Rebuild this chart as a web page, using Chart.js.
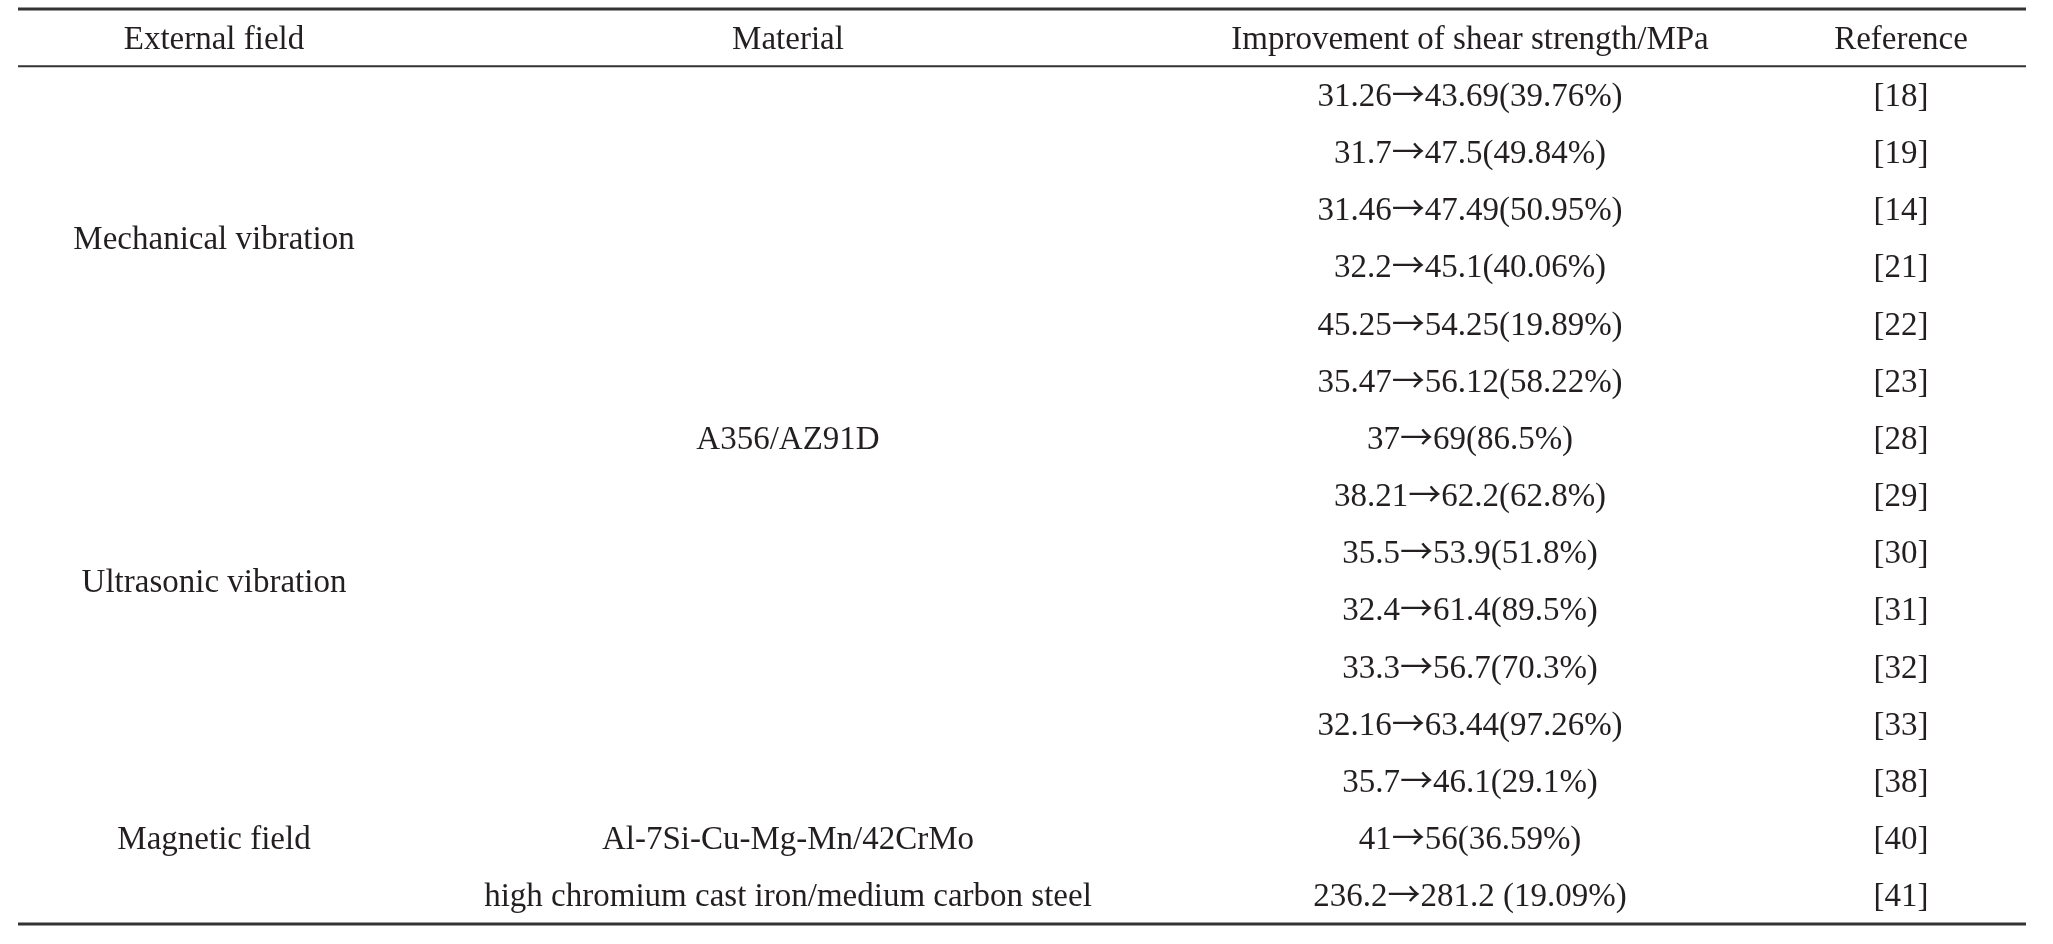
<!DOCTYPE html>
<html>
<head>
<meta charset="utf-8">
<title>Shear strength improvement by external field</title>
<script src="https://cdn.jsdelivr.net/npm/chart.js@4.4.1/dist/chart.umd.min.js"></script>
<style>
  html, body { margin: 0; padding: 0; background: #fff; }
  #wrap { width: 2053px; height: 944px; }
</style>
</head>
<body>
<div id="wrap"><canvas id="tabela" width="2053" height="944" aria-label="Improvement of shear strength by external field"></canvas></div>
<script>
// Cabeçalho da tabela
const headers = ['External field', 'Material', 'Improvement of shear strength/MPa', 'Reference'];

// Grupos (linhas de início e fim, 1 = primeira linha de dados)
const fields = ['Mechanical vibration', 'Ultrasonic vibration', 'Magnetic field'];
const fieldSpans = [[1, 6], [7, 12], [13, 15]];
const materials = ['A356/AZ91D', 'Al-7Si-Cu-Mg-Mn/42CrMo', 'high chromium cast iron/medium carbon steel'];
const materialSpans = [[1, 13], [14, 14], [15, 15]];

// Valores de resistência ao cisalhamento (MPa)
const before = [31.26, 31.7, 31.46, 32.2, 45.25, 35.47, 37, 38.21, 35.5, 32.4, 33.3, 32.16, 35.7, 41, 236.2];
const after = [43.69, 47.5, 47.49, 45.1, 54.25, 56.12, 69, 62.2, 53.9, 61.4, 56.7, 63.44, 46.1, 56, 281.2];
const gains = ['39.76', '49.84', '50.95', '40.06', '19.89', '58.22', '86.5', '62.8', '51.8', '89.5', '70.3', '97.26', '29.1', '36.59', '19.09'];
const refs = [18, 19, 14, 21, 22, 23, 28, 29, 30, 31, 32, 33, 38, 40, 41];
const spacedRows = [14]; // a última linha tem espaço antes do parêntese

// Layout (posição das colunas em unidades do eixo x)
const colX = [196, 770, 1452, 1883];
const FONT_SIZE = 33;
const FONT = FONT_SIZE + 'px "Liberation Serif", "Times New Roman", serif';
const ARROW_FONT = FONT_SIZE + 'px "Noto Sans CJK SC", "DejaVu Sans", sans-serif';
const INK = '#231f20';

const nRows = before.length;

// Pontos invisíveis em cada célula
const cellPoints = [];
for (let r = 1; r <= nRows; r++) {
  colX.forEach(x => cellPoints.push({ x: x, y: r }));
}

// Plugin que desenha as regras e os textos usando as escalas do gráfico
const tablePlugin = {
  id: 'tablePlugin',
  afterDatasetsDraw(chart) {
    const { ctx, scales: { x, y } } = chart;
    const left = x.getPixelForValue(x.min);
    const right = x.getPixelForValue(x.max);
    const baseShift = Math.round(FONT_SIZE / 3);

    function rule(val, width) {
      const py = y.getPixelForValue(val);
      ctx.save();
      ctx.strokeStyle = '#333';
      ctx.lineWidth = width;
      ctx.beginPath();
      ctx.moveTo(left, py);
      ctx.lineTo(right, py);
      ctx.stroke();
      ctx.restore();
    }
    function text(str, col, row) {
      ctx.font = FONT;
      ctx.textAlign = 'center';
      ctx.fillText(str, x.getPixelForValue(colX[col]), y.getPixelForValue(row) + baseShift);
    }
    // texto em partes (a seta usa outra fonte)
    function parts(list, col, row) {
      let total = 0;
      list.forEach(p => { ctx.font = p.font; p.w = ctx.measureText(p.t).width; total += p.w; });
      let px = x.getPixelForValue(colX[col]) - total / 2;
      const py = y.getPixelForValue(row) + baseShift;
      ctx.textAlign = 'left';
      list.forEach(p => { ctx.font = p.font; ctx.fillText(p.t, px, py); px += p.w; });
    }

    rule(-0.5, 3);
    rule(0.5, 2);
    rule(nRows + 0.5, 3);

    ctx.save();
    ctx.fillStyle = INK;
    ctx.textBaseline = 'alphabetic';

    headers.forEach((h, c) => text(h, c, 0));
    fields.forEach((f, i) => text(f, 0, (fieldSpans[i][0] + fieldSpans[i][1]) / 2));
    materials.forEach((m, i) => text(m, 1, (materialSpans[i][0] + materialSpans[i][1]) / 2));
    for (let i = 0; i < nRows; i++) {
      const tail = `${after[i]}${spacedRows.includes(i) ? ' ' : ''}(${gains[i]}%)`;
      parts([
        { t: String(before[i]), font: FONT },
        { t: '→', font: ARROW_FONT },
        { t: tail, font: FONT }
      ], 2, i + 1);
      text(`[${refs[i]}]`, 3, i + 1);
    }
    ctx.restore();
  }
};

const ctx = document.getElementById('tabela');
const tableChart = new Chart(ctx, {
  type: 'scatter',
  data: {
    datasets: [{
      label: 'cells',
      data: cellPoints,
      pointRadius: 0,
      pointHoverRadius: 0
    }]
  },
  options: {
    responsive: false,
    animation: false,
    events: [],
    layout: { padding: { left: 18, right: 27, top: 9, bottom: 20 } },
    scales: {
      x: { type: 'linear', min: 0, max: 2008, display: false },
      y: { type: 'linear', min: -0.5, max: nRows + 0.5, reverse: true, display: false }
    },
    plugins: {
      legend: { display: false },
      tooltip: { enabled: false }
    }
  },
  plugins: [tablePlugin]
});
</script>
</body>
</html>
